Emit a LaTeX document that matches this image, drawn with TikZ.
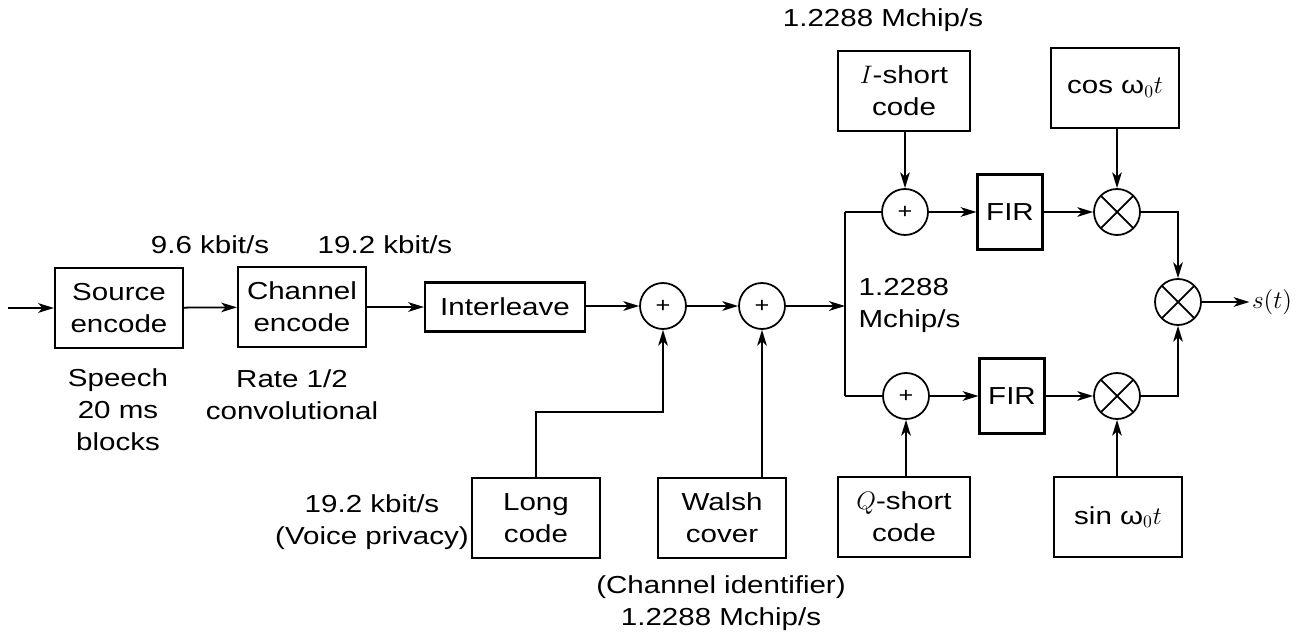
\documentclass[tikz,border=0pt]{standalone}
\usepackage{fontspec}
\setmainfont{Liberation Sans}[FakeStretch=1.2]
\usetikzlibrary{positioning,arrows.meta,calc}

\begin{document}
\begin{tikzpicture}[x=0.2mm,y=-0.2mm,line width=1pt,
  every node/.style={font=\fontsize{14}{18.2}\selectfont,inner sep=1pt},
  bx/.style={draw,line width=1.2pt,minimum width=2.56cm,minimum height=1.6cm,align=center},
  fir/.style={draw,line width=1.2pt,minimum width=1.3cm,minimum height=1.5cm},
  sm/.style={circle,draw,minimum size=0.92cm,inner sep=0pt,font=\fontsize{12}{12}\selectfont},
  ml/.style={circle,draw,minimum size=0.92cm,inner sep=0pt,path picture={
    \draw (path picture bounding box.north west)--(path picture bounding box.south east)
          (path picture bounding box.north east)--(path picture bounding box.south west);}},
  e/.style={-{Stealth[length=9pt,width=5.5pt,inset=2.5pt]}},
  lbl/.style={align=center}]
  \useasboundingbox (0,0) rectangle (1302,635);
  % main chain
  \node[bx] (src) at (119,308) {Source\\encode};
  \node[bx] (chenc) at (302,307) {Channel\\encode};
  \node[draw,line width=1.2pt,minimum width=3.2cm,minimum height=0.98cm] (intl) at (505,307) {Interleave};
  \node[sm] (sum1) at (663,306) {+};
  \node[sm] (sum2) at (762,306) {+};
  \coordinate (in) at (8,308);
  \coordinate (split) at (845,306);
  \coordinate (splitup) at (845,212);
  \coordinate (splitdn) at (845,396);
  % I branch
  \node[sm] (isum) at (905,212) {+};
  \node[fir] (fir1) at (1010,212) {FIR};
  \node[ml] (mcos) at (1117,212) {};
  \node[bx,minimum width=2.64cm] (ishort) at (904,91) {$I$-short\\code};
  \node[bx] (cosb) at (1115,88) {cos ω$_0t$};
  % Q branch
  \node[sm] (qsum) at (906,396) {+};
  \node[fir] (fir2) at (1012,396) {FIR};
  \node[ml] (msin) at (1117,396) {};
  \node[bx,minimum width=2.64cm] (qshort) at (904,517) {$Q$-short\\code};
  \node[bx] (sinb) at (1118,517) {sin ω$_0t$};
  \node[ml] (mout) at (1178,302) {};
  \node (st) at (1272,302) {$s(t)$};
  % code generators
  \node[bx] (lc) at (536,518) {Long\\code};
  \node[bx] (walsh) at (722,518) {Walsh\\cover};
  \coordinate (lcbend) at (536,412);
  % labels
  \node (r1) at (210,245) {9.6 kbit/s};
  \node (r2) at (385,245) {19.2 kbit/s};
  \node[lbl] (sp) at (118,410) {Speech\\20 ms\\blocks};
  \node[lbl] (cv) at (292,395) {Rate 1/2\\convolutional};
  \node (r3) at (883,20) {1.2288 Mchip/s};
  \node[lbl,align=left,anchor=west] (r4) at (856,305) {1.2288\\Mchip/s};
  \node[lbl] (vp) at (372,522) {19.2 kbit/s\\(Voice privacy)};
  \node[lbl] (ci) at (721,603) {(Channel identifier)\\1.2288 Mchip/s};
  % connectors
  \draw[e] (in) -- (src);
  \draw[e] (src) -- (chenc);
  \draw[e] (chenc) -- (chenc -| intl.west);
  \draw[e] (intl.east |- sum1) -- (sum1);
  \draw[e] (sum1) -- (sum2);
  \draw[e] (sum2) -- (split);
  \draw (splitup) -- (splitdn);
  \draw (splitup) -- (isum);
  \draw (splitdn) -- (qsum);
  \draw[e] (isum) -- (fir1);
  \draw[e] (fir1) -- (mcos);
  \draw[e] (ishort.south -| isum) -- (isum);
  \draw[e] (cosb.south -| mcos) -- (mcos);
  \draw[e] (qsum) -- (fir2);
  \draw[e] (fir2) -- (msin);
  \draw[e] (qshort.north -| qsum) -- (qsum);
  \draw[e] (sinb.north -| msin) -- (msin);
  \draw[e] (mcos) -| (mout);
  \draw[e] (msin) -| (mout);
  \draw[e] (mout) -- (st);
  \draw[e] (lc) -- (lcbend) -| (sum1);
  \draw[e] (walsh.north -| sum2) -- (sum2);
\end{tikzpicture}
\end{document}
